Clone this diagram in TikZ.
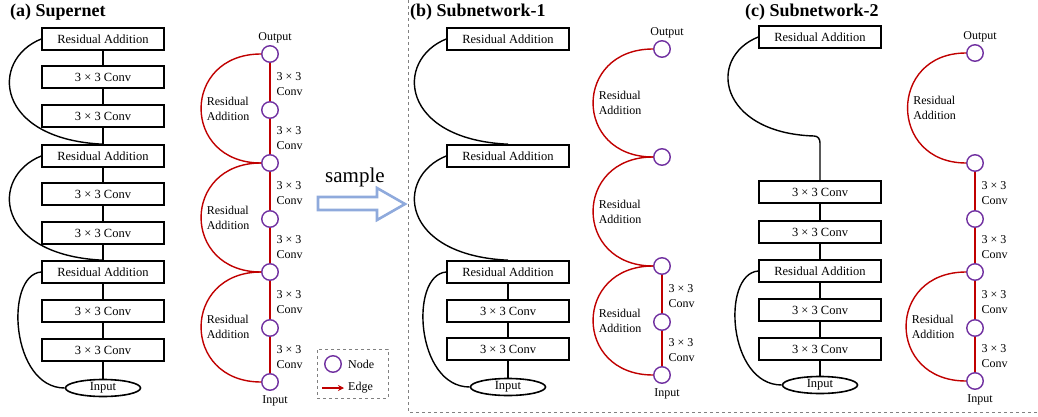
\documentclass[tikz,border=0pt]{standalone}
\usepackage{fontspec}
\setmainfont{Liberation Serif}
\usetikzlibrary{shapes.geometric,arrows.meta}
\definecolor{edgered}{RGB}{192,0,0}
\definecolor{nodepurple}{RGB}{112,48,160}
\definecolor{sampleblue}{RGB}{143,170,220}
\tikzset{
	blk/.style={draw, line width=1.6pt, minimum width=122pt, minimum height=22pt, inner sep=0pt, font=\fontsize{12.5}{14}\selectfont},
	inp/.style={draw, ellipse, line width=1.6pt, minimum width=75pt, minimum height=17pt, inner sep=0pt, font=\fontsize{12.5}{14}\selectfont},
	conn/.style={line width=1.4pt},
	gnode/.style={circle, draw=nodepurple, line width=1.4pt, minimum size=16.5pt, inner sep=0pt},
	redge/.style={draw=edgered, line width=1.4pt},
	convlbl/.style={anchor=west, align=left, xshift=6pt, yshift=-2pt, inner sep=0pt, font=\fontsize{12}{15}\selectfont},
	ralbl/.style={anchor=west, align=left, xshift=5pt, inner sep=0pt, font=\fontsize{12}{15}\selectfont},
	iolbl/.style={xshift=5pt, inner sep=1.5pt, font=\fontsize{12}{14}\selectfont},
	ttl/.style={anchor=base west, inner sep=0pt, font=\fontsize{18}{20}\selectfont\bfseries},
}
\begin{document}
\begin{tikzpicture}[x=1pt, y=-1pt]
	\useasboundingbox (0,0) rectangle (1038,417);
	% (a) supernet
	\node[ttl] (ta) at (10,17) {(a) Supernet};
	\node[blk] (a1) at (103,39) {Residual Addition};
	\node[blk] (a2) at (103,77) {3 × 3 Conv};
	\node[blk] (a3) at (103,116) {3 × 3 Conv};
	\node[blk] (a4) at (103,156) {Residual Addition};
	\node[blk] (a5) at (103,194) {3 × 3 Conv};
	\node[blk] (a6) at (103,233) {3 × 3 Conv};
	\node[blk] (a7) at (103,272) {Residual Addition};
	\node[blk] (a8) at (103,311) {3 × 3 Conv};
	\node[blk] (a9) at (103,350) {3 × 3 Conv};
	\node[inp] (ain) at (103,388) {Input};
	\draw[conn] (a1) -- (a2) -- (a3) -- (a4) -- (a5) -- (a6) -- (a7) -- (a8) -- (a9) -- (ain);
	\draw[conn] (a1.west) .. controls +(-52,21) and +(-108,-5) .. (a4.north);
	\draw[conn] (a4.west) .. controls +(-52,21) and +(-108,-5) .. (a7.north);
	\draw[conn] (a7.west) .. controls +(-37,3) and +(-54,0) .. (ain.west);

	\node[gnode, label={[iolbl]above:Output}] (ga1) at (270,54) {};
	\node[gnode] (ga2) at (270,110) {};
	\node[gnode] (ga3) at (270,163) {};
	\node[gnode] (ga4) at (270,219) {};
	\node[gnode] (ga5) at (270,272) {};
	\node[gnode] (ga6) at (270,328) {};
	\node[gnode, label={[iolbl, yshift=-3pt]below:Input}] (ga7) at (270,382) {};
	\foreach \u/\v in {ga1/ga2, ga2/ga3, ga3/ga4, ga4/ga5, ga5/ga6, ga6/ga7}
		\draw[redge] (\u) -- (\v) node[midway, convlbl] {3 × 3\\Conv};
	\draw[redge] (ga1.west) .. controls +(-80,0) and +(-80,0) .. (ga3.west) node[pos=0.5, ralbl] {Residual\\Addition};
	\draw[redge] (ga3.west) .. controls +(-80,0) and +(-80,0) .. (ga5.west) node[pos=0.5, ralbl] {Residual\\Addition};
	\draw[redge] (ga5.west) .. controls +(-80,0) and +(-80,0) .. (ga7.west) node[pos=0.5, ralbl] {Residual\\Addition};

	% legend
	\node[draw=gray, dashed, line width=0.9pt, minimum width=71pt, minimum height=49pt, inner sep=0pt] (legend) at (352.5,373.5) {};
	\node[gnode] (lgnode) at (333,364) {};
	\node[anchor=west, inner sep=0pt, font=\fontsize{12}{14}\selectfont] (lgnodetxt) at (348,364) {Node};
	\coordinate (lgA) at (322,388);
	\coordinate (lgB) at (344,388);
	\draw[redge, -{Stealth[length=6pt, width=6pt]}] (lgA) -- (lgB);
	\node[anchor=west, inner sep=0pt, font=\fontsize{12}{14}\selectfont] (lgedgetxt) at (348,388) {Edge};

	% sample arrow
	\node[anchor=base west, inner sep=0pt, font=\fontsize{21}{24}\selectfont] (smp) at (325,182) {sample};
	\draw[sampleblue, line width=2.6pt, fill=white, line join=miter] (318,197) -- (377,197) -- (377,188) -- (405,204) -- (377,220) -- (377,210) -- (318,210) -- cycle;

	% separator
	\draw[gray, dashed, line width=0.9pt] (408,0) -- (408,412) -- (1038,412);

	% (b) subnetwork-1
	\node[ttl] (tb) at (410,17) {(b) Subnetwork-1};
	\node[blk] (b1) at (508,39) {Residual Addition};
	\node[blk] (b2) at (508,156) {Residual Addition};
	\node[blk] (b3) at (508,272) {Residual Addition};
	\node[blk] (b4) at (508,311) {3 × 3 Conv};
	\node[blk] (b5) at (508,349) {3 × 3 Conv};
	\node[inp] (bin) at (508,387) {Input};
	\draw[conn] (b3) -- (b4) -- (b5) -- (bin);
	\draw[conn] (b1.west) .. controls +(-52,21) and +(-108,-5) .. (b2.north);
	\draw[conn] (b2.west) .. controls +(-52,21) and +(-108,-5) .. (b3.north);
	\draw[conn] (b3.west) .. controls +(-37,3) and +(-54,0) .. (bin.west);

	\node[gnode, label={[iolbl]above:Output}] (gb1) at (662,49) {};
	\node[gnode] (gb2) at (662,157) {};
	\node[gnode] (gb3) at (662,266) {};
	\node[gnode] (gb4) at (662,322) {};
	\node[gnode, label={[iolbl, yshift=-3pt]below:Input}] (gb5) at (662,375) {};
	\foreach \u/\v in {gb3/gb4, gb4/gb5}
		\draw[redge] (\u) -- (\v) node[midway, convlbl] {3 × 3\\Conv};
	\draw[redge] (gb1.west) .. controls +(-80,0) and +(-80,0) .. (gb2.west) node[pos=0.5, ralbl] {Residual\\Addition};
	\draw[redge] (gb2.west) .. controls +(-80,0) and +(-80,0) .. (gb3.west) node[pos=0.5, ralbl] {Residual\\Addition};
	\draw[redge] (gb3.west) .. controls +(-80,0) and +(-80,0) .. (gb5.west) node[pos=0.5, ralbl] {Residual\\Addition};

	% (c) subnetwork-2
	\node[ttl] (tc) at (745,17) {(c) Subnetwork-2};
	\node[blk] (c1) at (820,37) {Residual Addition};
	\node[blk] (c2) at (820,192) {3 × 3 Conv};
	\node[blk] (c3) at (820,232) {3 × 3 Conv};
	\node[blk] (c4) at (820,271) {Residual Addition};
	\node[blk] (c5) at (820,310) {3 × 3 Conv};
	\node[blk] (c6) at (820,349) {3 × 3 Conv};
	\node[inp] (cin) at (820,385) {Input};
	\draw[conn] (c2) -- (c3) -- (c4) -- (c5) -- (c6) -- (cin);
	\coordinate (cbend) at (814,136);
	\coordinate (cturn) at (820,143);
	\draw[conn] (c1.west) .. controls +(-52,21) and +(-95,-3) .. (cbend) .. controls +(4,0) and +(0,-4) .. (cturn) -- (c2.north);
	\draw[conn] (c4.west) .. controls +(-37,3) and +(-54,0) .. (cin.west);

	\node[gnode, label={[iolbl]above:Output}] (gc1) at (975,53) {};
	\node[gnode] (gc2) at (975,163) {};
	\node[gnode] (gc3) at (975,219) {};
	\node[gnode] (gc4) at (975,272) {};
	\node[gnode] (gc5) at (975,328) {};
	\node[gnode, label={[iolbl, yshift=-3pt]below:Input}] (gc6) at (975,381) {};
	\foreach \u/\v in {gc2/gc3, gc3/gc4, gc4/gc5, gc5/gc6}
		\draw[redge] (\u) -- (\v) node[midway, convlbl] {3 × 3\\Conv};
	\draw[redge] (gc1.west) .. controls +(-78,0) and +(-78,0) .. (gc2.west) node[pos=0.5, ralbl] {Residual\\Addition};
	\draw[redge] (gc4.west) .. controls +(-80,0) and +(-80,0) .. (gc6.west) node[pos=0.5, ralbl] {Residual\\Addition};
\end{tikzpicture}
\end{document}
